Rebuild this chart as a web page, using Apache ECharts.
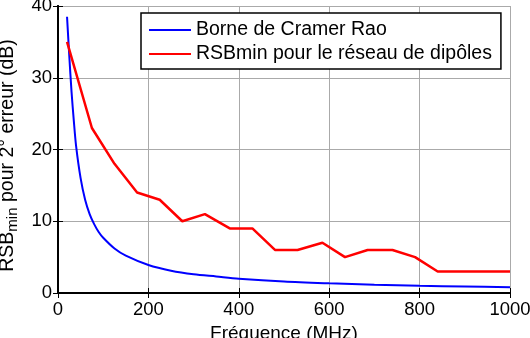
<!DOCTYPE html>
<html><head><meta charset="utf-8">
<script src="https://cdn.jsdelivr.net/npm/echarts@6/dist/echarts.min.js"></script>
<style>html,body{margin:0;padding:0;background:#fff}#c{width:530px;height:338px}</style>
</head><body><div id="c"></div>
<script>
const blueFreq = [20,25,30,35,40,50,60,70,80,90,100,125,150,200,250,300,350,400,500,600,700,800,900,1000];
const blueVals = [38.5,33,28,24,20.5,16,13,11,9.6,8.5,7.7,6.2,5.2,3.9,3.1,2.6,2.3,2.0,1.6,1.35,1.15,1.0,0.9,0.8];
const redFreq = [20,75,125,175,225,275,325,380,430,480,530,585,635,685,740,790,840,1000];
const redVals = [35,23,18,14,13,10,11,9,9,6,6,7,5,6,6,5,3,3];
const seriesNames = ['Borne de Cramer Rao','RSBmin pour le réseau de dipôles'];
const xTicks = [0,200,400,600,800,1000];
const yTicks = [0,10,20,30,40];

const font = 'Liberation Sans, Arial, sans-serif';
const fs = 18.5;
const chart = echarts.init(document.getElementById('c'), null, {renderer:'canvas'});
const axisCommon = {
  axisLine:{show:true, lineStyle:{color:'#000', width:2}},
  axisTick:{show:true, inside:true, length:5, lineStyle:{color:'#000', width:1}},
};
chart.setOption({
  animation:false,
  backgroundColor:'#fff',
  grid:{left:58, right:20, top:6, bottom:45, containLabel:false, outerBoundsMode:'none'},
  legend:{
    orient:'vertical', left:141, top:13, data:seriesNames,
    icon:'rect', itemWidth:42, itemHeight:2, itemGap:4,
    padding:[7,9,5,8], borderColor:'#000', borderWidth:1.5, backgroundColor:'#fff',
    textStyle:{fontFamily:font, fontSize:19.5, color:'#000', lineHeight:20}
  },
  xAxis:[{
    type:'value', min:xTicks[0], max:xTicks[xTicks.length-1], interval:200,
    ...axisCommon,
    splitLine:{show:true, lineStyle:{color:'#aaa', width:1}},
    axisLabel:{fontFamily:font, fontSize:fs, color:'#000', margin:7, formatter:v=>String(v)},
    name:'Fréquence (MHz)', nameLocation:'middle', nameGap:29,
    nameTextStyle:{fontFamily:font, fontSize:19, color:'#000'}
  },{
    type:'value', position:'top', min:0, max:1000, interval:200,
    ...axisCommon, axisLabel:{show:false}, splitLine:{show:false}
  }],
  yAxis:[{
    type:'value', min:yTicks[0], max:yTicks[yTicks.length-1], interval:10,
    ...axisCommon,
    splitLine:{show:true, lineStyle:{color:'#aaa', width:1}},
    axisLabel:{fontFamily:font, fontSize:fs, color:'#000', margin:6, padding:[2,0,0,0]},
    name:'RSB{sub|min} pour 2° erreur (dB)', nameLocation:'middle', nameGap:20,
    nameTextStyle:{fontFamily:font, fontSize:19.5, color:'#000', padding:[0,12,0,0],
      rich:{sub:{fontFamily:font, fontSize:15, color:'#000', verticalAlign:'bottom', padding:[10,0,0,0]}}}
  },{
    type:'value', position:'right', min:0, max:40, interval:10,
    ...axisCommon, axisLabel:{show:false}, splitLine:{show:false}
  }],
  series:[{
    name:seriesNames[0], type:'line', symbol:'none', smooth:0.3,
    data:blueFreq.map((f,i)=>[f,blueVals[i]]),
    lineStyle:{color:'#0000ff', width:2}, itemStyle:{color:'#0000ff'}
  },{
    name:seriesNames[1], type:'line', symbol:'none',
    data:redFreq.map((f,i)=>[f,redVals[i]]),
    lineStyle:{color:'#ff0000', width:2.5}, itemStyle:{color:'#ff0000'}
  }]
});
</script></body></html>
